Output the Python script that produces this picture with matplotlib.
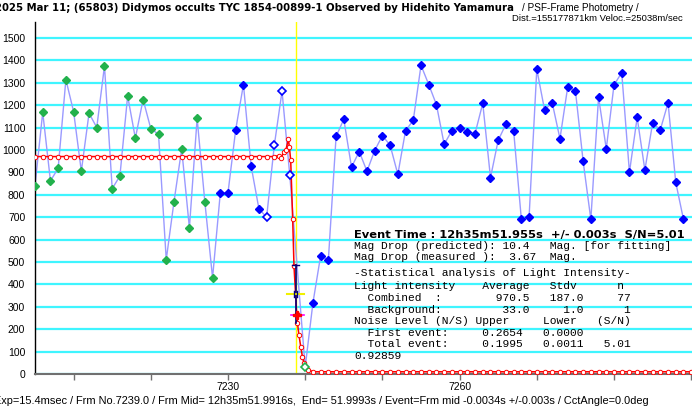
import matplotlib
matplotlib.use("Agg")
import matplotlib.pyplot as plt
from matplotlib import font_manager

# ---- data ----
green_frames = list(range(7205, 7229))
green_vals = [841, 1168, 862, 918, 1314, 1171, 905, 1164, 1100, 1375, 827, 884,
              1241, 1052, 1225, 1095, 1070, 510, 768, 1004, 652, 1141, 768, 429]

blue_a_frames = list(range(7229, 7235))
blue_a_vals = [807, 809, 1091, 1292, 927, 738]

open_frames = list(range(7235, 7239))
open_vals = [699, 1021, 1262, 888]

event_frames = [7240]
event_vals = [31]

blue_b_frames = list(range(7241, 7290))
blue_b_vals = [317, 528, 509, 1060, 1137, 923, 993, 905, 997, 1064, 1021, 891,
               1086, 1132, 1378, 1292, 1202, 1025, 1086, 1100, 1082, 1073, 1208,
               876, 1043, 1115, 1085, 690, 700, 1360, 1180, 1210, 1050, 1280,
               1265, 950, 690, 1235, 1005, 1290, 1345, 900, 1145, 910, 1120,
               1090, 1210, 855, 690]

# model light curve (fitted)
model_frames = (list(range(7205, 7237))
                + [7236.6, 7236.9, 7237.2, 7237.5, 7237.82, 7237.95, 7238.12,
                   7238.38, 7238.55, 7238.9, 7239.0, 7239.19, 7239.42, 7239.64,
                   7239.84, 7240.3]
                + list(range(7241, 7291)))
model_vals = ([970.5] * 32
              + [975, 965, 990, 1000, 1048, 1013, 955, 690, 480, 268, 226,
                 174, 122, 77, 48, 20]
              + [10] * 50)

event_time = 7238.75
err_top, err_bottom = 487, 228
bar_yellow = (7237.7, 7239.9, 357)
bar_magenta = (7238.1, 7239.8, 265)
fit_point = (7238.98, 265)

yticks = list(range(0, 1600, 100))
xticks = list(range(7210, 7291, 10))
xlabels = {7230: "7230", 7260: "7260"}

title_bold = "2025 Mar 11; (65803) Didymos occults TYC 1854-00899-1 Observed by Hidehito Yamamura"
title_rest = "/ PSF-Frame Photometry /"
title_line2 = "Dist.=155177871km Veloc.=25038m/sec"
footer_txt = ("Exp=15.4msec / Frm No.7239.0 / Frm Mid= 12h35m51.9916s,  End= 51.9993s"
              " / Event=Frm mid -0.0034s +/-0.003s / CctAngle=0.0deg")
event_txt = "Event Time : 12h35m51.955s  +/- 0.003s  S/N=5.01"
stats_lines = [
    "Mag Drop (predicted): 10.4   Mag. [for fitting]",
    "Mag Drop (measured ):  3.67  Mag.",
    "-Statistical analysis of Light Intensity-",
    "Light intensity    Average   Stdv      n",
    "  Combined  :        970.5   187.0     77",
    "  Background:         33.0     1.0      1",
    "Noise Level (N/S) Upper     Lower   (S/N)",
    "  First event:     0.2654   0.0000",
    "  Total event:     0.1995   0.0011   5.01",
    "0.92859",
]
stats_y = [246, 257.3, 273.3, 286, 298.3, 310, 321, 332.7, 344.3, 356]

W, H = 692, 407
GREEN = "#22b14c"
BLUE = "#0000ff"
LAV = "#9a9aff"

# narrow face for the plain labels, if present
names = {f.name for f in font_manager.fontManager.ttflist}
NARROW = "Liberation Sans Narrow" if "Liberation Sans Narrow" in names else "Liberation Sans"

fig = plt.figure(figsize=(W / 100, H / 100), dpi=100)
ax = fig.add_axes([35 / W, 1 - 374 / H, 657 / W, 352 / H])
ax.set_xlim(7205.0, 7205.0 + 657 / 7.72)
ax.set_ylim(0, 1571)

ax.set_yticks(yticks)
ax.yaxis.grid(True, color="#3ff5ff", lw=1.6, zorder=0)
ax.set_axisbelow(True)
ax.set_xticks(xticks)
ax.set_xticklabels([xlabels.get(t, "") for t in xticks])
ax.tick_params(axis="y", length=0, pad=7, labelsize=7.5, labelfontfamily=NARROW)
ax.tick_params(axis="x", length=4, width=1, color="#707070", direction="out",
               pad=2, labelsize=7.5, labelfontfamily=NARROW)
for s in ("top", "right"):
    ax.spines[s].set_visible(False)
ax.spines["left"].set_color("black")
ax.spines["left"].set_linewidth(1)
ax.spines["bottom"].set_color("#707070")
ax.spines["bottom"].set_linewidth(1.5)

# event time line
ax.axvline(event_time, color="#ffff00", lw=1, zorder=1)

# observed light curve (connecting line)
all_f = green_frames + blue_a_frames + open_frames + event_frames + blue_b_frames
all_v = green_vals + blue_a_vals + open_vals + event_vals + blue_b_vals
ax.plot(all_f, all_v, color=LAV, lw=1, zorder=2)

# model
ax.plot(model_frames, model_vals, color="red", lw=1.1, marker="o", ms=3.2,
        mfc="white", mec="red", mew=0.7, zorder=3)

# markers
ax.plot(green_frames, green_vals, ls="none", marker="D", ms=4.2, color=GREEN, zorder=4)
ax.plot(blue_a_frames, blue_a_vals, ls="none", marker="D", ms=4.2, color=BLUE, zorder=4)
ax.plot(blue_b_frames, blue_b_vals, ls="none", marker="D", ms=4.2, color=BLUE, zorder=4)
ax.plot(open_frames, open_vals, ls="none", marker="D", ms=4.0, mfc="white",
        mec=BLUE, mew=1.2, zorder=4)
ax.plot(event_frames, event_vals, ls="none", marker="D", ms=4.0, mfc="white",
        mec=GREEN, mew=1.2, zorder=4)

# event error markers
ax.plot([event_time, event_time], [err_bottom, err_top], color="#000080", lw=1.2, zorder=5)
ax.plot([event_time - 0.4, event_time + 0.4], [err_top, err_top], color="#000080", lw=1, zorder=5)
ax.plot(bar_yellow[:2], [bar_yellow[2]] * 2, color="#f0f000", lw=1.5, zorder=5)
for dx in (-0.25, 0.25):
    ax.plot([event_time + dx] * 2, [bar_yellow[2] - 15, bar_yellow[2] + 15],
            color="#000080", lw=1, zorder=6)
ax.plot(bar_magenta[:2], [bar_magenta[2]] * 2, color="#ff00ff", lw=1.2, zorder=5)
ax.plot([fit_point[0]], [fit_point[1]], marker="P", ms=6, color="red", zorder=6)

# ---- texts ----
r = fig.canvas.get_renderer()


def px(x, y):
    return x / W, 1 - y / H


def put(x, y, s, width=None, **kw):
    t = fig.text(*px(x, y), s, **kw)
    if width:
        w = t.get_window_extent(r).width
        t.set_fontsize(t.get_fontsize() * width / w)
    return t


put(-5, 8, title_bold, width=517, fontsize=8, fontweight="bold", va="center",
    family="DejaVu Sans")
put(522, 8, title_rest, fontsize=7.2, va="center", family=NARROW)
put(683, 18.5, title_line2, fontsize=6.8, va="center", ha="right", family=NARROW)
put(-6, 401, footer_txt, width=656, fontsize=8, va="center", family=NARROW)

put(354, 235, event_txt, width=329, fontsize=8, fontweight="bold", va="center",
    family="DejaVu Sans")
for s, y in zip(stats_lines, stats_y):
    put(354, y, s, fontsize=8.1, va="center", family="Liberation Mono")

fig.savefig("out.png", dpi=100)
